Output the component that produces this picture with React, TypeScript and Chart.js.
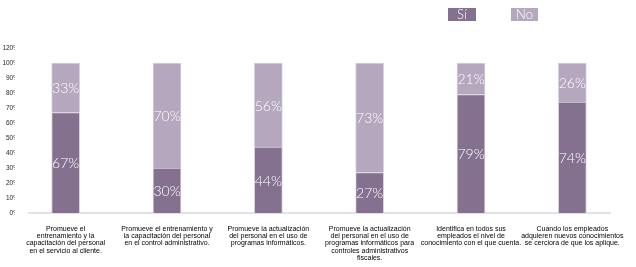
import React, { useEffect, useRef } from "react";
import { Chart, registerables } from "chart.js";

Chart.register(...registerables);

const categories: string[][] = [
  ["Promueve el", "entrenamiento y la", "capacitación del personal", "en el servicio al cliente."],
  ["Promueve el entrenamiento y", "la capacitación del personal", "en el control administrativo."],
  ["Promueve la actualización", "del personal en el uso de", "programas informáticos."],
  ["Promueve la actualización", "del personal en el uso de", "programas informáticos para", "controles administrativos", "fiscales."],
  ["Identifica en todos sus", "empleados el nivel de", "conocimiento con el que cuenta."],
  ["Cuando los empleados", "adquieren nuevos conocimientos", "se cerciora de que los aplique."],
];

const siValues = [67, 30, 44, 27, 79, 74];
const noValues = [33, 70, 56, 73, 21, 26];

const seriesNames = ["Sí", "No"];
const yTickLabels = ["0%", "10%", "20%", "30%", "40%", "50%", "60%", "70%", "80%", "90%", "100%", "120%"];

const SI_COLOR = "#83718f";
const NO_COLOR = "#b4a7be";

const baselinePlugin = {
  id: "baseline",
  beforeDatasetsDraw(chart: any) {
    const { ctx, chartArea } = chart;
    const y = chart.scales.y.getPixelForValue(0);
    ctx.save();
    ctx.strokeStyle = "#e3e0e9";
    ctx.lineWidth = 2;
    ctx.beginPath();
    ctx.moveTo(chartArea.left + 13, y);
    ctx.lineTo(chartArea.right - 12, y);
    ctx.stroke();
    ctx.restore();
  },
};

const valueLabelPlugin = {
  id: "valueLabels",
  afterDatasetsDraw(chart: any) {
    const { ctx } = chart;
    ctx.save();
    ctx.fillStyle = "#ffffff";
    ctx.font = "300 14px Lato, 'DejaVu Sans', sans-serif";
    ctx.textAlign = "center";
    ctx.textBaseline = "middle";
    chart.data.datasets.forEach((ds: any, di: number) => {
      const meta = chart.getDatasetMeta(di);
      meta.data.forEach((el: any, i: number) => {
        const v = ds.data[i];
        const props = el.getProps(["x", "y", "base"], true);
        const cy = (props.y + props.base) / 2;
        ctx.fillText(v + "%", props.x, cy + 1);
      });
    });
    ctx.restore();
  },
};

const legendPlugin = {
  id: "boxLegend",
  afterDraw(chart: any) {
    const { ctx } = chart;
    const boxes = [
      { x: 448, w: 28 },
      { x: 511, w: 27 },
    ];
    ctx.save();
    chart.data.datasets.forEach((ds: any, di: number) => {
      const b = boxes[di];
      ctx.fillStyle = ds.backgroundColor;
      ctx.fillRect(b.x, 8, b.w, 13);
      ctx.fillStyle = "#ffffff";
      ctx.font = "300 13px Lato, 'DejaVu Sans', sans-serif";
      ctx.textAlign = "center";
      ctx.textBaseline = "middle";
      ctx.fillText(ds.label, b.x + b.w / 2, 15);
    });
    ctx.restore();
  },
};

export default function App() {
  const canvasRef = useRef<HTMLCanvasElement | null>(null);

  useEffect(() => {
    document.body.style.margin = "0";
    const canvas = canvasRef.current;
    if (!canvas) return;
    const chart = new Chart(canvas, {
      type: "bar",
      data: {
        labels: categories,
        datasets: [
          {
            label: seriesNames[0],
            data: siValues,
            backgroundColor: SI_COLOR,
            borderColor: "#d8d1de",
            borderWidth: 1,
            barThickness: 28,
          },
          {
            label: seriesNames[1],
            data: noValues,
            backgroundColor: NO_COLOR,
            borderColor: "#d8d1de",
            borderWidth: 1,
            barThickness: 28,
          },
        ],
      },
      options: {
        responsive: false,
        animation: false,
        devicePixelRatio: 1,
        layout: { padding: { top: 48, left: 0, right: 6, bottom: 0 } },
        plugins: {
          legend: { display: false },
          tooltip: { enabled: false },
        },
        scales: {
          x: {
            stacked: true,
            grid: { display: false, drawTicks: false },
            border: { display: false },
            ticks: {
              autoSkip: false,
              maxRotation: 0,
              minRotation: 0,
              padding: 12,
              color: "#000000",
              font: { family: "'Liberation Sans', Arial, sans-serif", size: 7, lineHeight: 1.05 },
            },
            afterFit: (s: any) => {
              s.height = 54;
            },
          },
          y: {
            stacked: true,
            min: 0,
            max: 110,
            grid: { display: false, drawTicks: false },
            border: { display: false },
            ticks: {
              stepSize: 10,
              padding: -4,
              color: "#262626",
              font: { family: "'Liberation Sans', Arial, sans-serif", size: 6.5 },
              callback: (_v: any, i: number) => yTickLabels[i],
            },
            afterFit: (s: any) => {
              s.width = 15;
            },
          },
        },
      },
      plugins: [baselinePlugin, valueLabelPlugin, legendPlugin],
    });
    return () => chart.destroy();
  }, []);

  return (
    <div style={{ width: 636, height: 267, position: "relative" }}>
      <canvas ref={canvasRef} width={636} height={267} style={{ display: "block" }} />
    </div>
  );
}
